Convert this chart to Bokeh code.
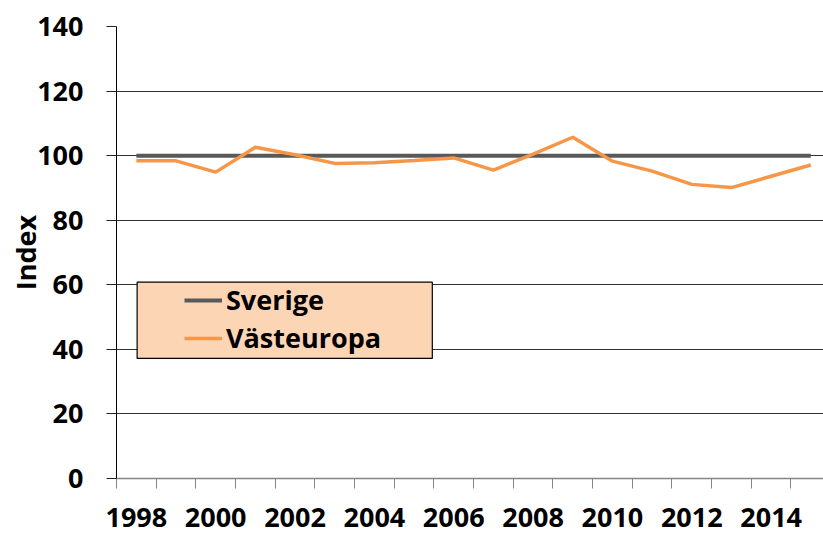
from bokeh.plotting import figure
from bokeh.models import FixedTicker, Legend, LegendItem, BoxAnnotation, Range1d
from bokeh.embed import file_html
from bokeh.resources import INLINE

# ---- data ----
years = list(range(1998, 2016))
sverige = [100, 100, 100, 100, 100, 100, 100, 100, 100,
           100, 100, 100, 100, 100, 100, 100, 100, 100]
vasteuropa = [98.4, 98.4, 94.9, 102.6, 100.3, 97.6, 97.8, 98.5, 99.3,
              95.5, 100.5, 105.7, 98.3, 95.2, 91.1, 90.1, 93.6, 97.1]
x_tick_years = [1998, 2000, 2002, 2004, 2006, 2008, 2010, 2012, 2014]
x_tick_labels = ["1998", "2000", "2002", "2004", "2006", "2008", "2010", "2012", "2014"]
y_ticks = [0, 20, 40, 60, 80, 100, 120, 140]
series_names = ["Sverige", "Västeuropa"]

FONT = "Open Sans"
FS = "27px"

p = figure(width=823, height=533,
           min_border_left=116, min_border_right=0, min_border_top=26, min_border_bottom=55,
           output_backend="svg", toolbar_location=None,
           x_range=Range1d(years[0] - 0.5, years[0] - 0.5 + 17.82),
           y_range=Range1d(0, 140))
p.outline_line_color = None
p.background_fill_color = "white"
p.border_fill_color = "white"

# x axis
minor = [y - 0.5 for y in years]
p.xaxis.ticker = FixedTicker(ticks=x_tick_years, minor_ticks=minor)
p.xaxis.major_label_overrides = {y: l for y, l in zip(x_tick_years, x_tick_labels)}
p.xaxis.major_tick_line_color = None
p.xaxis.minor_tick_line_color = "#868686"
p.xaxis.minor_tick_line_width = 1
p.xaxis.minor_tick_out = 10
p.xaxis.minor_tick_in = 0
p.xaxis.axis_line_color = "#868686"
p.xaxis.axis_line_width = 1.5
p.xaxis.major_label_standoff = 19
p.xaxis.major_label_text_font = FONT
p.xaxis.major_label_text_font_style = "bold"
p.xaxis.major_label_text_font_size = FS
p.xaxis.major_label_text_color = "black"
p.xgrid.grid_line_color = None

# y axis
p.yaxis.ticker = FixedTicker(ticks=y_ticks, minor_ticks=[])
p.yaxis.axis_line_color = "black"
p.yaxis.major_tick_line_color = "#222222"
p.yaxis.major_tick_out = 10
p.yaxis.major_tick_in = 0
p.yaxis.major_label_standoff = 23
p.yaxis.major_label_text_font = FONT
p.yaxis.major_label_text_font_style = "bold"
p.yaxis.major_label_text_font_size = FS
p.yaxis.major_label_text_color = "black"
p.yaxis.axis_label = "Index"
p.yaxis.axis_label_standoff = -10
p.yaxis.axis_label_text_font = FONT
p.yaxis.axis_label_text_font_style = "bold"
p.yaxis.axis_label_text_font_size = FS
p.yaxis.axis_label_text_color = "black"
p.ygrid.grid_line_color = "#333333"
p.ygrid.grid_line_width = 1

r1 = p.line(years, sverige, line_color="#595959", line_width=4)
r2 = p.line(years, vasteuropa, line_color="#F79646", line_width=3.5)

box = BoxAnnotation(left=1998.02, right=2005.46, bottom=37.2, top=60.8,
                    fill_color="#FCD5B5", fill_alpha=1.0,
                    line_color="black", line_alpha=1.0, line_width=1.2)
p.add_layout(box)

legend = Legend(items=[LegendItem(label=series_names[0], renderers=[r1]),
                       LegendItem(label=series_names[1], renderers=[r2])],
                location=(68, 122), padding=0, margin=0, spacing=1,
                glyph_width=38, glyph_height=36, label_height=36,
                label_standoff=4,
                background_fill_alpha=0, border_line_color=None,
                label_text_font=FONT, label_text_font_style="bold",
                label_text_font_size=FS, label_text_color="black")
p.add_layout(legend)

open("out.html", "w").write(file_html(p, INLINE))
